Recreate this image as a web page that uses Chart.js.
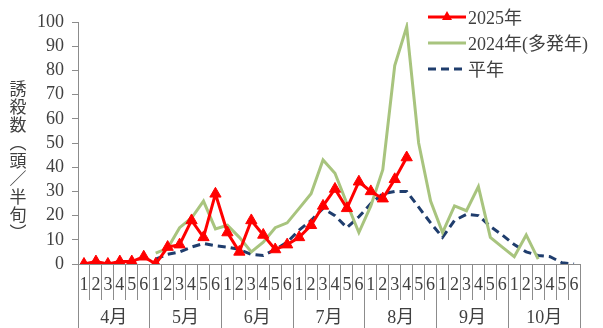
<!DOCTYPE html>
<html lang="ja">
<head>
<meta charset="UTF-8">
<title>誘殺数</title>
<script src="https://cdn.jsdelivr.net/npm/chart.js"></script>
<style>
    body { margin: 0; padding: 0; background: #fff; }
    #wrap { width: 603px; height: 328px; position: relative; }
</style>
</head>
<body>
<div id="wrap"><canvas id="trapChart"></canvas></div>
<script>
    // 月と半旬
    const months = ['4月', '5月', '6月', '7月', '8月', '9月', '10月'];
    const halves = ['1', '2', '3', '4', '5', '6'];
    const categories = months.flatMap(() => halves);

    // 誘殺数（頭／半旬）
    const y2025 = [0, 1, 0, 1, 1, 3,
                   0, 7, 8, 18, 11, 29,
                   13, 5, 18, 12, 6, 8,
                   11, 16, 24, 31, 23, 34,
                   30, 27, 35, 44, null, null,
                   null, null, null, null, null, null,
                   null, null, null, null, null, null];
    const y2024 = [null, null, null, null, null, null,
                   4.5, 6.5, 15, 19, 26, 14.5,
                   16, 11, 5, 9, 15, 17,
                   23, 29, 43, 37.5, 25, 13,
                   24, 39, 82, 98, 50, 26,
                   13, 24, 22, 32, 11, 7,
                   3, 12, 2, null, null, null];
    const normal = [null, null, null, null, null, null,
                    2, 4, 5, 7, 8.5, 7.5,
                    7, 6, 4, 3.5, 6, 9,
                    14, 18, 23, 20, 15, 19.5,
                    25, 29, 30, 30, 23.5, 17,
                    11, 18, 20.5, 20, 15.5, 12,
                    8, 5, 3.5, 3, 0.5, 0];
    const yTicks = [0, 10, 20, 30, 40, 50, 60, 70, 80, 90, 100];
    const seriesNames = ['2025年', '2024年(多発年)', '平年'];
    const yTitle = ['︵', '頭', '／', '半', '旬', '︶'];

    const FONT = "'Liberation Serif', 'Noto Sans CJK JP', serif";
    const TEXT = '#404040';
    const AXIS = '#8c8c8c';

    // 縦書きの軸タイトル
    const yTitlePlugin = {
        id: 'yTitle',
        afterDraw(chart) {
            const ctx = chart.ctx;
            const chars = ['誘', '殺', '数'].concat(yTitle);
            ctx.save();
            ctx.fillStyle = TEXT;
            ctx.font = "17px 'Noto Sans CJK JP'";
            ctx.textAlign = 'center';
            ctx.textBaseline = 'middle';
            chars.forEach((c, i) => ctx.fillText(c, 18, 89 + i * 18));
            ctx.restore();
        }
    };

    // 凡例（右上）
    const legendPlugin = {
        id: 'cornerLegend',
        afterDraw(chart) {
            const ctx = chart.ctx;
            ctx.save();
            chart.data.datasets.forEach((ds, i) => {
                const y = 17 + i * 26;
                ctx.strokeStyle = ds.borderColor;
                ctx.lineWidth = ds.borderWidth;
                ctx.setLineDash(ds.borderDash || []);
                ctx.beginPath();
                ctx.moveTo(428, y);
                ctx.lineTo(466, y);
                ctx.stroke();
                ctx.setLineDash([]);
                if (ds.pointStyle === 'triangle') {
                    ctx.fillStyle = ds.borderColor;
                    ctx.beginPath();
                    ctx.moveTo(447, y - 6);
                    ctx.lineTo(452, y + 3);
                    ctx.lineTo(442, y + 3);
                    ctx.closePath();
                    ctx.fill();
                }
                ctx.fillStyle = TEXT;
                ctx.font = '18px ' + FONT;
                ctx.textAlign = 'left';
                ctx.textBaseline = 'middle';
                ctx.fillText(ds.label, 468, y + 2);
            });
            ctx.restore();
        }
    };

    new Chart(document.getElementById('trapChart'), {
        type: 'line',
        data: {
            labels: categories,
            datasets: [{
                label: seriesNames[0],
                data: y2025,
                borderColor: '#ff0000',
                backgroundColor: '#ff0000',
                borderWidth: 3,
                pointStyle: 'triangle',
                pointRadius: 6.5,
                pointBorderWidth: 1,
                tension: 0
            }, {
                label: seriesNames[1],
                data: y2024,
                borderColor: '#a8c47e',
                borderWidth: 3,
                pointRadius: 0,
                tension: 0
            }, {
                label: seriesNames[2],
                data: normal,
                borderColor: '#1f3d6d',
                borderWidth: 3,
                borderDash: [8, 5],
                pointRadius: 0,
                tension: 0
            }]
        },
        options: {
            responsive: true,
            maintainAspectRatio: false,
            animation: false,
            layout: { padding: { top: 22, right: 23, left: 0, bottom: 0 } },
            plugins: { legend: { display: false }, tooltip: { enabled: false } },
            scales: {
                x: {
                    type: 'category',
                    position: 'bottom',
                    offset: true,
                    grid: { drawOnChartArea: false, offset: true, tickLength: 36, color: AXIS },
                    border: { color: AXIS },
                    ticks: { autoSkip: false, maxRotation: 0, padding: -26, color: TEXT, font: { family: FONT, size: 18 } },
                    afterFit(s) { s.height = 36; }
                },
                x2: {
                    type: 'category',
                    position: 'bottom',
                    labels: months,
                    offset: true,
                    grid: { drawOnChartArea: false, offset: true, tickLength: 28, color: AXIS },
                    border: { display: false },
                    ticks: { autoSkip: false, maxRotation: 0, padding: -21, color: TEXT, font: { family: FONT, size: 18 } },
                    afterFit(s) { s.height = 28; }
                },
                y: {
                    min: 0,
                    max: 100,
                    afterBuildTicks(s) { s.ticks = yTicks.map(v => ({ value: v })); },
                    grid: { drawOnChartArea: false, tickLength: 6, color: AXIS },
                    border: { color: AXIS },
                    ticks: { autoSkip: false, padding: 8, color: TEXT, font: { family: FONT, size: 18 } },
                    afterFit(s) { s.width = 78; }
                }
            }
        },
        plugins: [yTitlePlugin, legendPlugin]
    });
</script>
</body>
</html>
